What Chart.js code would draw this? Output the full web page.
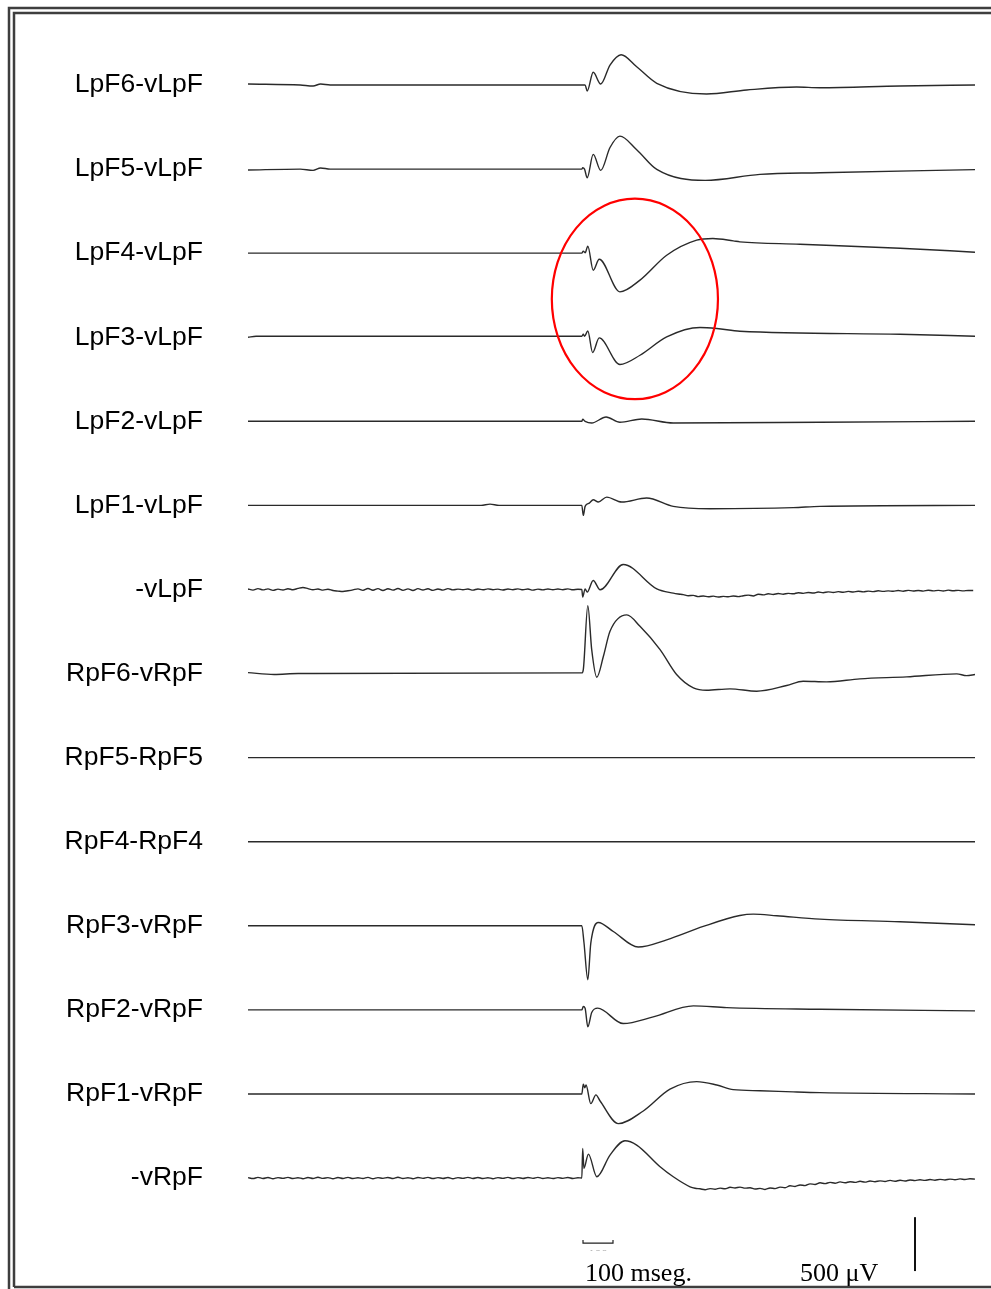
<!DOCTYPE html>
<html>
<head>
<meta charset="utf-8">
<script src="https://cdn.jsdelivr.net/npm/chart.js@4.4.1/dist/chart.umd.min.js"></script>
<style>
  body { margin: 0; background: #fff; }
  canvas { display: block; }
</style>
</head>
<body>
<canvas id="eeg" width="991" height="1289"></canvas>
<script>
// channel names, top to bottom
const channels = ['LpF6-vLpF', 'LpF5-vLpF', 'LpF4-vLpF', 'LpF3-vLpF', 'LpF2-vLpF', 'LpF1-vLpF', '-vLpF',
  'RpF6-vRpF', 'RpF5-RpF5', 'RpF4-RpF4', 'RpF3-vRpF', 'RpF2-vRpF', 'RpF1-vRpF', '-vRpF'];

// each trace: [time ms (0 = stimulus), amplitude µV]
const lpf6 = [[-1117, 9], [-943, 0], [-900, -9], [-875, 9], [-843, 0], [-4, 0], [7, 0], [14, -56], [34, 118], [59, 9],
  [90, 185], [127, 281], [179, 169], [246, 16], [412, -83], [546, -46], [712, -19], [790, -25], [1057, -9], [1307, 0]];
const lpf5 = [[-1117, -9], [-943, 0], [-900, -12], [-875, 10], [-843, 0], [-4, 0], [-1, 12], [5, 0], [14, -81], [34, 136],
  [59, -12], [90, 200], [123, 306], [179, 180], [246, -3], [407, -105], [590, -49], [790, -34], [1307, -5]];
const lpf4 = [[-1117, 0], [-4, 0], [1, 19], [7, 3], [16, 65], [34, -158], [54, -56], [123, -359], [190, -250], [279, -19],
  [379, 121], [433, 136], [501, 114], [523, 105], [723, 83], [1057, 46], [1307, 9]];
const lpf3 = [[-1117, 0], [-1090, 9], [-4, 9], [1, 28], [5, 9], [16, 58], [32, -142], [54, -6], [123, -253], [190, -167],
  [279, 3], [390, 90], [446, 81], [523, 56], [1057, 28], [1307, 9]];
const lpf2 = [[-1117, 0], [-4, 0], [-1, 19], [7, 0], [29, -16], [77, 40], [123, -9], [196, 21], [301, -16], [790, -9], [1307, 0]];
const lpf1 = [[-1117, 0], [-340, 0], [-310, 12], [-280, 0], [-4, 0], [1, -93], [7, -9], [21, 21], [34, 53], [51, 31],
  [79, 77], [129, 31], [212, 68], [301, -9], [423, -31], [701, -21], [790, -9], [1307, 0]];

// -vLpF: noisy baseline read every 5 px (≈16.7 ms)
const vLpFPre = [5, -6, 8, -4, 6, -8, 3, -5, 7, -3,
  10, 19, 8, -3, 4, -6, 2, -10, -15, -19,
  -12, -4, 6, -8, 9, -7, 8, -9, 7, -6,
  9, -8, 6, -9, 8, -5, 7, -8, 5, -6,
  8, -4, 3, -2, 4, -6, 5, -3, 6, -2,
  3, -5, 4, -2, 6, -3, 4, -6, 3, -4,
  5, -3, 4, -2, 6, -3, 2];
const vLpFEvoked = [[-4, 0], [-1, -71], [7, 6], [14, -25], [34, 83], [57, -3], [134, 232], [246, 6]];
const vLpFPost = [-34, -42, -48, -58, -55, -66, -60, -68, -62, -70,
  -64, -68, -60, -66, -58, -52, -60, -44, -50, -40,
  -46, -38, -44, -36, -40, -30, -36, -28, -33, -24,
  -30, -22, -28, -20, -26, -18, -24, -16, -22, -15,
  -20, -12, -18, -13, -17, -10, -16, -8, -14, -9,
  -15, -7, -13, -8, -14, -6, -12, -8, -13, -9, -10];

const rpf6 = [[-1117, 9], [-1030, -9], [-950, 0], [-4, 6], [1, 37], [16, 630], [29, 222], [46, -34], [68, 160], [90, 392],
  [146, 544], [190, 438], [257, 222], [312, -9], [368, -133], [412, -155], [490, -142], [579, -164], [679, -111],
  [734, -71], [812, -77], [923, -49], [1079, -31], [1246, -3], [1279, -19], [1307, -9]];
const rpf5 = [[-1117, 0], [1307, 0]];
const rpf4 = [[-1117, 0], [1307, 0]];
const rpf3 = [[-1117, 0], [-4, 0], [3, -150], [16, -500], [26, -160], [51, 31], [101, -53], [184, -197], [279, -130],
  [401, -6], [523, 95], [568, 108], [646, 93], [790, 62], [1057, 37], [1307, 9]];
const rpf2 = [[-1117, 0], [-4, 0], [1, 31], [7, 16], [16, -158], [29, -25], [49, 16], [134, -127], [234, -65], [368, 37],
  [479, 21], [790, 6], [1307, -9]];
const rpf1 = [[-1117, 0], [-4, 0], [1, 90], [6, 58], [10, 83], [26, -90], [43, -9], [57, -65], [118, -275], [201, -158],
  [290, 44], [379, 114], [446, 83], [501, 40], [590, 30], [701, 19], [790, 12], [1307, 0]];

// -vRpF: noisy baseline read every 5 px
const vRpFPre = [4, -5, 6, -4, 5, -6, 4, -3, 6, -5,
  3, -6, 5, -4, 7, -3, 4, -6, 5, -4,
  6, -5, 3, -4, 6, -6, 4, -3, 5, -5,
  7, -4, 3, -6, 5, -3, 6, -5, 4, -4,
  5, -6, 4, -3, 6, -4, 5, -5, 3, -6,
  4, -3, 6, -5, 4, -4, 5, -3, 6, -4,
  3, -5, 4, -3, 5, -4, 2];
const vRpFEvoked = [[-4, 0], [-1, 275], [3, 90], [18, 222], [46, 12], [90, 213], [140, 346], [179, 306], [257, 105], [301, 12]];
const vRpFPost = [-81, -95, -100, -108, -98, -104, -94, -100, -86, -92,
  -84, -94, -90, -102, -96, -106, -92, -98, -84, -90,
  -72, -78, -64, -70, -54, -60, -44, -52, -40, -48,
  -36, -44, -34, -40, -30, -38, -28, -34, -26, -32,
  -22, -30, -20, -28, -18, -24, -16, -22, -14, -20,
  -12, -18, -10, -16, -8, -14, -6, -10];

const noiseStep = 50 / 3;
const channelGap = 780;   // µV between channel baselines
const yMax = 603, yMin = -11021;
const tMin = -1117, tMax = 1307;

// circled area and calibration bars
const circle = { t: 173, v: -1985, rt: 277, rv: 930 };
const timeBar = { t: 0, len: 100, v: -10743 };
const voltBar = { t: 1107, v: -11003, len: 500 };

function gridPoints(vals, t0) {
  return vals.map((v, i) => [t0 + i * noiseStep, v]);
}

const vLpF = [...gridPoints(vLpFPre, -1117), ...vLpFEvoked, ...gridPoints(vLpFPost, 301)];
const vRpF = [...gridPoints(vRpFPre, -1117), ...vRpFEvoked, ...gridPoints(vRpFPost, 357)];
const traces = [lpf6, lpf5, lpf4, lpf3, lpf2, lpf1, vLpF, rpf6, rpf5, rpf4, rpf3, rpf2, rpf1, vRpF];
const offsets = channels.map((c, i) => -i * channelGap);

const datasets = traces.map((tr, i) => ({
  label: channels[i],
  data: tr.map(p => ({ x: p[0], y: p[1] + offsets[i] })),
  borderColor: '#2a2a2a',
  borderWidth: 1.4,
  pointRadius: 0,
  cubicInterpolationMode: 'monotone',
  fill: false
}));

const framePlugin = {
  id: 'frame',
  afterDraw(chart) {
    const ctx = chart.ctx;
    const xs = chart.scales.x, ys = chart.scales.y;
    ctx.save();

    // double frame
    ctx.strokeStyle = '#3e3e3e';
    ctx.lineWidth = 2.5;
    ctx.beginPath();
    ctx.moveTo(9, 1289); ctx.lineTo(9, 8); ctx.lineTo(991, 8);
    ctx.moveTo(14, 1287); ctx.lineTo(14, 13); ctx.lineTo(991, 13);
    ctx.moveTo(14, 1287); ctx.lineTo(991, 1287);
    ctx.stroke();

    // red ellipse
    const cx = xs.getPixelForValue(circle.t), cy = ys.getPixelForValue(circle.v);
    const rx = xs.getPixelForValue(circle.t + circle.rt) - cx;
    const ry = cy - ys.getPixelForValue(circle.v + circle.rv);
    ctx.strokeStyle = '#ff0000';
    ctx.lineWidth = 2.2;
    ctx.beginPath();
    ctx.ellipse(cx, cy, rx, ry, 0, 0, Math.PI * 2);
    ctx.stroke();

    // 100 ms bar
    const bx0 = xs.getPixelForValue(timeBar.t), bx1 = xs.getPixelForValue(timeBar.t + timeBar.len);
    const by = ys.getPixelForValue(timeBar.v);
    ctx.strokeStyle = '#222';
    ctx.lineWidth = 1.2;
    ctx.beginPath();
    ctx.moveTo(bx0, by - 3); ctx.lineTo(bx0, by); ctx.lineTo(bx1, by); ctx.lineTo(bx1, by - 3);
    ctx.stroke();
    // clipped label under the bar
    ctx.save();
    ctx.beginPath();
    ctx.rect(bx0, by + 5, bx1 - bx0, 3);
    ctx.clip();
    ctx.fillStyle = '#aaa';
    ctx.font = '13px "Liberation Serif"';
    ctx.textAlign = 'center';
    ctx.textBaseline = 'top';
    ctx.fillText('100', (bx0 + bx1) / 2, by + 5);
    ctx.restore();

    // 500 µV bar
    const vx = xs.getPixelForValue(voltBar.t);
    ctx.strokeStyle = '#111';
    ctx.lineWidth = 2;
    ctx.beginPath();
    ctx.moveTo(vx, ys.getPixelForValue(voltBar.v));
    ctx.lineTo(vx, ys.getPixelForValue(voltBar.v + voltBar.len));
    ctx.stroke();

    ctx.fillStyle = '#000';
    ctx.font = '26px "Liberation Serif", "Times New Roman", serif';
    ctx.textAlign = 'left';
    ctx.textBaseline = 'alphabetic';
    ctx.fillText('100 mseg.', 585, 1281);
    ctx.fillText('500 \u03bcV', 800, 1281);
    ctx.restore();
  }
};

new Chart(document.getElementById('eeg').getContext('2d'), {
  type: 'line',
  data: { datasets },
  options: {
    responsive: false,
    animation: false,
    devicePixelRatio: 1,
    layout: { padding: { left: 16, right: 16, top: 20, bottom: 16 } },
    plugins: { legend: { display: false }, tooltip: { enabled: false } },
    scales: {
      x: { type: 'linear', min: tMin, max: tMax, display: false },
      y: {
        type: 'linear',
        min: yMin,
        max: yMax,
        grid: { display: false, drawTicks: true, tickLength: 45 },
        border: { display: false },
        afterBuildTicks: axis => { axis.ticks = offsets.map(v => ({ value: v })); },
        afterFit: axis => { axis.width = 232; },
        ticks: {
          autoSkip: false,
          padding: 0,
          color: '#000',
          font: { family: '"Liberation Sans", Arial, sans-serif', size: 26.5 },
          callback: value => channels[Math.round(-value / channelGap)]
        }
      }
    }
  },
  plugins: [framePlugin]
});
</script>
</body>
</html>
